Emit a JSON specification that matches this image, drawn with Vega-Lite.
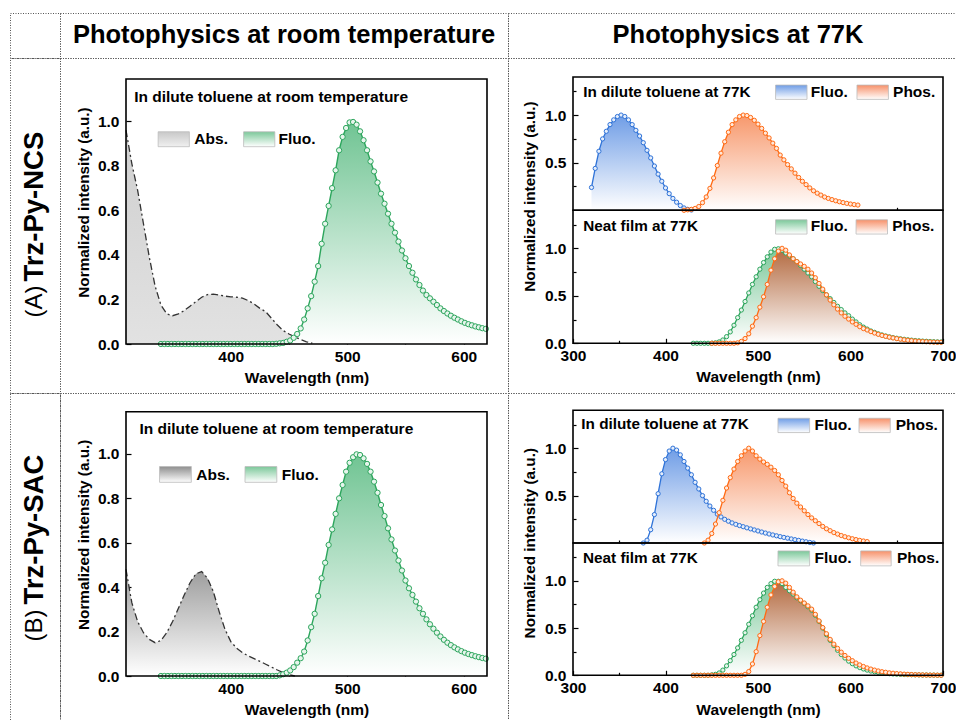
{
"$schema":"https://vega.github.io/schema/vega-lite/v6.json",
"usermeta":{"embedOptions":{"actions":false}},
"padding":{"left":9,"top":12,"right":0,"bottom":0},
"spacing":0,
"bounds":"flush",
"columns":3,
"config":{"font":"Liberation Sans","view":{"stroke":"#555555","strokeDash":[1,1.5],"strokeWidth":1},"axis":{"labelFont":"Liberation Sans","titleFont":"Liberation Sans"},"text":{"font":"Liberation Sans"}},
"datasets":{
"A_abs":[{"x":310,"y":0.96},{"x":315,"y":0.81},{"x":320,"y":0.69},{"x":325,"y":0.54},{"x":330,"y":0.39},{"x":335,"y":0.26},{"x":340,"y":0.175},{"x":345,"y":0.135},{"x":350,"y":0.127},{"x":355,"y":0.135},{"x":360,"y":0.15},{"x":365,"y":0.17},{"x":370,"y":0.19},{"x":375,"y":0.21},{"x":380,"y":0.222},{"x":385,"y":0.224},{"x":390,"y":0.22},{"x":395,"y":0.215},{"x":400,"y":0.212},{"x":405,"y":0.21},{"x":410,"y":0.206},{"x":415,"y":0.195},{"x":420,"y":0.18},{"x":425,"y":0.16},{"x":430,"y":0.145},{"x":435,"y":0.115},{"x":440,"y":0.085},{"x":445,"y":0.06},{"x":450,"y":0.045},{"x":455,"y":0.032},{"x":460,"y":0.02},{"x":465,"y":0.01},{"x":470,"y":0.004}],
"A_fl":[{"x":340,"y":0},{"x":343,"y":0},{"x":346,"y":0},{"x":349,"y":0},{"x":352,"y":0},{"x":355,"y":0},{"x":358,"y":0},{"x":361,"y":0},{"x":364,"y":0},{"x":367,"y":0},{"x":370,"y":0},{"x":373,"y":0},{"x":376,"y":0},{"x":379,"y":0},{"x":382,"y":0},{"x":385,"y":0},{"x":388,"y":0},{"x":391,"y":0},{"x":394,"y":0},{"x":397,"y":0},{"x":400,"y":0},{"x":403,"y":0},{"x":406,"y":0},{"x":409,"y":0},{"x":412,"y":0},{"x":415,"y":0},{"x":418,"y":0},{"x":421,"y":0},{"x":424,"y":0},{"x":427,"y":0},{"x":430,"y":0},{"x":433,"y":0},{"x":436,"y":0},{"x":439,"y":0.001},{"x":442,"y":0.003},{"x":445,"y":0.005},{"x":448,"y":0.01},{"x":451,"y":0.016},{"x":454,"y":0.028},{"x":457,"y":0.045},{"x":460,"y":0.07},{"x":463,"y":0.11},{"x":466,"y":0.16},{"x":469,"y":0.215},{"x":472,"y":0.28},{"x":475,"y":0.35},{"x":478,"y":0.45},{"x":481,"y":0.54},{"x":484,"y":0.62},{"x":487,"y":0.7},{"x":490,"y":0.78},{"x":493,"y":0.87},{"x":496,"y":0.93},{"x":499,"y":0.97},{"x":502,"y":0.995},{"x":505,"y":0.997},{"x":508,"y":0.985},{"x":511,"y":0.955},{"x":514,"y":0.915},{"x":517,"y":0.87},{"x":520,"y":0.82},{"x":523,"y":0.775},{"x":526,"y":0.725},{"x":529,"y":0.675},{"x":532,"y":0.63},{"x":535,"y":0.585},{"x":538,"y":0.54},{"x":541,"y":0.5},{"x":544,"y":0.46},{"x":547,"y":0.42},{"x":550,"y":0.385},{"x":553,"y":0.35},{"x":556,"y":0.32},{"x":559,"y":0.29},{"x":562,"y":0.265},{"x":565,"y":0.24},{"x":568,"y":0.22},{"x":571,"y":0.205},{"x":574,"y":0.19},{"x":577,"y":0.175},{"x":580,"y":0.16},{"x":583,"y":0.148},{"x":586,"y":0.137},{"x":589,"y":0.127},{"x":592,"y":0.118},{"x":595,"y":0.11},{"x":598,"y":0.102},{"x":601,"y":0.095},{"x":604,"y":0.089},{"x":607,"y":0.084},{"x":610,"y":0.079},{"x":613,"y":0.075},{"x":616,"y":0.071},{"x":619,"y":0.068}],
"B_abs":[{"x":310,"y":0.48},{"x":315,"y":0.33},{"x":320,"y":0.245},{"x":325,"y":0.195},{"x":330,"y":0.165},{"x":335,"y":0.15},{"x":340,"y":0.16},{"x":345,"y":0.195},{"x":350,"y":0.245},{"x":355,"y":0.305},{"x":360,"y":0.365},{"x":365,"y":0.42},{"x":370,"y":0.46},{"x":375,"y":0.47},{"x":380,"y":0.44},{"x":385,"y":0.38},{"x":390,"y":0.29},{"x":395,"y":0.21},{"x":400,"y":0.155},{"x":405,"y":0.125},{"x":410,"y":0.105},{"x":415,"y":0.09},{"x":420,"y":0.078},{"x":425,"y":0.066},{"x":430,"y":0.053},{"x":435,"y":0.04},{"x":440,"y":0.027},{"x":445,"y":0.015},{"x":450,"y":0.006},{"x":455,"y":0}],
"B_fl":[{"x":340,"y":0},{"x":343,"y":0},{"x":346,"y":0},{"x":349,"y":0},{"x":352,"y":0},{"x":355,"y":0},{"x":358,"y":0},{"x":361,"y":0},{"x":364,"y":0},{"x":367,"y":0},{"x":370,"y":0},{"x":373,"y":0},{"x":376,"y":0},{"x":379,"y":0},{"x":382,"y":0},{"x":385,"y":0},{"x":388,"y":0},{"x":391,"y":0},{"x":394,"y":0},{"x":397,"y":0},{"x":400,"y":0},{"x":403,"y":0},{"x":406,"y":0},{"x":409,"y":0},{"x":412,"y":0},{"x":415,"y":0},{"x":418,"y":0},{"x":421,"y":0},{"x":424,"y":0},{"x":427,"y":0},{"x":430,"y":0},{"x":433,"y":0},{"x":436,"y":0},{"x":439,"y":0},{"x":442,"y":0.003},{"x":445,"y":0.008},{"x":448,"y":0.015},{"x":451,"y":0.025},{"x":454,"y":0.04},{"x":457,"y":0.06},{"x":460,"y":0.08},{"x":463,"y":0.11},{"x":466,"y":0.16},{"x":469,"y":0.22},{"x":472,"y":0.28},{"x":475,"y":0.36},{"x":478,"y":0.44},{"x":481,"y":0.51},{"x":484,"y":0.59},{"x":487,"y":0.66},{"x":490,"y":0.73},{"x":493,"y":0.8},{"x":496,"y":0.86},{"x":499,"y":0.92},{"x":502,"y":0.96},{"x":505,"y":0.985},{"x":508,"y":0.998},{"x":511,"y":0.995},{"x":514,"y":0.98},{"x":517,"y":0.955},{"x":520,"y":0.92},{"x":523,"y":0.875},{"x":526,"y":0.825},{"x":529,"y":0.77},{"x":532,"y":0.72},{"x":535,"y":0.665},{"x":538,"y":0.615},{"x":541,"y":0.565},{"x":544,"y":0.52},{"x":547,"y":0.475},{"x":550,"y":0.43},{"x":553,"y":0.395},{"x":556,"y":0.365},{"x":559,"y":0.335},{"x":562,"y":0.305},{"x":565,"y":0.28},{"x":568,"y":0.255},{"x":571,"y":0.233},{"x":574,"y":0.213},{"x":577,"y":0.195},{"x":580,"y":0.178},{"x":583,"y":0.163},{"x":586,"y":0.15},{"x":589,"y":0.139},{"x":592,"y":0.129},{"x":595,"y":0.12},{"x":598,"y":0.112},{"x":601,"y":0.105},{"x":604,"y":0.099},{"x":607,"y":0.094},{"x":610,"y":0.089},{"x":613,"y":0.085},{"x":616,"y":0.081},{"x":619,"y":0.078}],
"A_tf":[{"x":320,"y":0.24},{"x":324,"y":0.44},{"x":328,"y":0.62},{"x":332,"y":0.75},{"x":336,"y":0.83},{"x":340,"y":0.9},{"x":344,"y":0.95},{"x":348,"y":0.985},{"x":352,"y":1},{"x":356,"y":0.985},{"x":360,"y":0.95},{"x":364,"y":0.9},{"x":368,"y":0.84},{"x":372,"y":0.78},{"x":376,"y":0.71},{"x":380,"y":0.63},{"x":384,"y":0.55},{"x":388,"y":0.465},{"x":392,"y":0.38},{"x":396,"y":0.305},{"x":400,"y":0.235},{"x":404,"y":0.175},{"x":408,"y":0.125},{"x":412,"y":0.085},{"x":416,"y":0.05},{"x":420,"y":0.025},{"x":424,"y":0.01},{"x":428,"y":0.003}],
"A_tp":[{"x":420,"y":0},{"x":424,"y":0.005},{"x":428,"y":0.01},{"x":432,"y":0.02},{"x":436,"y":0.04},{"x":440,"y":0.08},{"x":444,"y":0.14},{"x":448,"y":0.23},{"x":452,"y":0.34},{"x":456,"y":0.47},{"x":460,"y":0.6},{"x":464,"y":0.72},{"x":468,"y":0.82},{"x":472,"y":0.9},{"x":476,"y":0.95},{"x":480,"y":0.985},{"x":484,"y":1},{"x":488,"y":0.995},{"x":492,"y":0.975},{"x":496,"y":0.945},{"x":500,"y":0.905},{"x":504,"y":0.86},{"x":508,"y":0.81},{"x":512,"y":0.76},{"x":516,"y":0.705},{"x":520,"y":0.65},{"x":524,"y":0.58},{"x":528,"y":0.53},{"x":532,"y":0.48},{"x":536,"y":0.435},{"x":540,"y":0.39},{"x":544,"y":0.345},{"x":548,"y":0.305},{"x":552,"y":0.27},{"x":556,"y":0.235},{"x":560,"y":0.205},{"x":564,"y":0.18},{"x":568,"y":0.16},{"x":572,"y":0.14},{"x":576,"y":0.125},{"x":580,"y":0.112},{"x":584,"y":0.1},{"x":588,"y":0.09},{"x":592,"y":0.081},{"x":596,"y":0.073},{"x":600,"y":0.066},{"x":604,"y":0.06},{"x":608,"y":0.055}],
"A_bf":[{"x":430,"y":0},{"x":434,"y":0},{"x":438,"y":0},{"x":442,"y":0},{"x":446,"y":0},{"x":450,"y":0},{"x":454,"y":0.005},{"x":458,"y":0.015},{"x":462,"y":0.035},{"x":466,"y":0.07},{"x":470,"y":0.12},{"x":474,"y":0.19},{"x":478,"y":0.27},{"x":482,"y":0.35},{"x":486,"y":0.44},{"x":490,"y":0.53},{"x":494,"y":0.62},{"x":498,"y":0.7},{"x":502,"y":0.78},{"x":506,"y":0.85},{"x":510,"y":0.91},{"x":514,"y":0.96},{"x":518,"y":0.99},{"x":522,"y":0.995},{"x":526,"y":0.98},{"x":530,"y":0.95},{"x":534,"y":0.92},{"x":538,"y":0.89},{"x":542,"y":0.86},{"x":546,"y":0.82},{"x":550,"y":0.78},{"x":554,"y":0.74},{"x":558,"y":0.7},{"x":562,"y":0.65},{"x":566,"y":0.6},{"x":570,"y":0.555},{"x":574,"y":0.51},{"x":578,"y":0.47},{"x":582,"y":0.43},{"x":586,"y":0.39},{"x":590,"y":0.355},{"x":594,"y":0.32},{"x":598,"y":0.29},{"x":602,"y":0.255},{"x":606,"y":0.225},{"x":610,"y":0.195},{"x":614,"y":0.17},{"x":618,"y":0.15},{"x":622,"y":0.13},{"x":626,"y":0.115},{"x":630,"y":0.1},{"x":634,"y":0.088},{"x":638,"y":0.077},{"x":642,"y":0.068},{"x":646,"y":0.06},{"x":650,"y":0.053},{"x":654,"y":0.047},{"x":658,"y":0.042},{"x":662,"y":0.037},{"x":666,"y":0.033},{"x":670,"y":0.029},{"x":674,"y":0.026},{"x":678,"y":0.023},{"x":682,"y":0.021},{"x":686,"y":0.019},{"x":690,"y":0.017},{"x":694,"y":0.015},{"x":698,"y":0.014}],
"A_bp":[{"x":450,"y":0},{"x":454,"y":0},{"x":458,"y":0},{"x":462,"y":0},{"x":466,"y":0},{"x":470,"y":0},{"x":474,"y":0},{"x":478,"y":0.005},{"x":482,"y":0.02},{"x":486,"y":0.05},{"x":490,"y":0.1},{"x":494,"y":0.18},{"x":498,"y":0.27},{"x":502,"y":0.38},{"x":506,"y":0.49},{"x":510,"y":0.62},{"x":514,"y":0.77},{"x":518,"y":0.89},{"x":522,"y":0.97},{"x":526,"y":1},{"x":530,"y":0.98},{"x":534,"y":0.93},{"x":538,"y":0.89},{"x":542,"y":0.86},{"x":546,"y":0.835},{"x":550,"y":0.81},{"x":554,"y":0.78},{"x":558,"y":0.74},{"x":562,"y":0.69},{"x":566,"y":0.63},{"x":570,"y":0.57},{"x":574,"y":0.51},{"x":578,"y":0.455},{"x":582,"y":0.405},{"x":586,"y":0.36},{"x":590,"y":0.32},{"x":594,"y":0.285},{"x":598,"y":0.255},{"x":602,"y":0.225},{"x":606,"y":0.2},{"x":610,"y":0.175},{"x":614,"y":0.155},{"x":618,"y":0.14},{"x":622,"y":0.123},{"x":626,"y":0.108},{"x":630,"y":0.095},{"x":634,"y":0.083},{"x":638,"y":0.073},{"x":642,"y":0.064},{"x":646,"y":0.056},{"x":650,"y":0.049},{"x":654,"y":0.043},{"x":658,"y":0.037},{"x":662,"y":0.032},{"x":666,"y":0.028},{"x":670,"y":0.024},{"x":674,"y":0.021},{"x":678,"y":0.018},{"x":682,"y":0.016},{"x":686,"y":0.014},{"x":690,"y":0.012},{"x":694,"y":0.011},{"x":698,"y":0.01}],
"B_tf":[{"x":376,"y":0},{"x":380,"y":0.03},{"x":384,"y":0.14},{"x":388,"y":0.3},{"x":392,"y":0.52},{"x":396,"y":0.73},{"x":400,"y":0.88},{"x":404,"y":0.97},{"x":408,"y":1},{"x":412,"y":0.98},{"x":416,"y":0.93},{"x":420,"y":0.86},{"x":424,"y":0.79},{"x":428,"y":0.72},{"x":432,"y":0.64},{"x":436,"y":0.57},{"x":440,"y":0.5},{"x":444,"y":0.44},{"x":448,"y":0.39},{"x":452,"y":0.345},{"x":456,"y":0.305},{"x":460,"y":0.275},{"x":464,"y":0.25},{"x":468,"y":0.23},{"x":472,"y":0.212},{"x":476,"y":0.197},{"x":480,"y":0.184},{"x":484,"y":0.172},{"x":488,"y":0.16},{"x":492,"y":0.149},{"x":496,"y":0.138},{"x":500,"y":0.127},{"x":504,"y":0.116},{"x":508,"y":0.105},{"x":512,"y":0.095},{"x":516,"y":0.085},{"x":520,"y":0.076},{"x":524,"y":0.067},{"x":528,"y":0.059},{"x":532,"y":0.051},{"x":536,"y":0.043},{"x":540,"y":0.035},{"x":544,"y":0.028},{"x":548,"y":0.02},{"x":552,"y":0.013},{"x":556,"y":0.006},{"x":560,"y":0}],
"B_tp":[{"x":442,"y":0},{"x":446,"y":0.03},{"x":450,"y":0.1},{"x":454,"y":0.2},{"x":458,"y":0.32},{"x":462,"y":0.45},{"x":466,"y":0.58},{"x":470,"y":0.69},{"x":474,"y":0.78},{"x":478,"y":0.86},{"x":482,"y":0.92},{"x":486,"y":0.97},{"x":490,"y":1},{"x":494,"y":0.97},{"x":498,"y":0.92},{"x":502,"y":0.885},{"x":506,"y":0.855},{"x":510,"y":0.83},{"x":514,"y":0.8},{"x":518,"y":0.765},{"x":522,"y":0.72},{"x":526,"y":0.66},{"x":530,"y":0.6},{"x":534,"y":0.53},{"x":538,"y":0.47},{"x":542,"y":0.42},{"x":546,"y":0.38},{"x":550,"y":0.34},{"x":554,"y":0.3},{"x":558,"y":0.265},{"x":562,"y":0.235},{"x":566,"y":0.205},{"x":570,"y":0.175},{"x":574,"y":0.15},{"x":578,"y":0.13},{"x":582,"y":0.11},{"x":586,"y":0.094},{"x":590,"y":0.079},{"x":594,"y":0.066},{"x":598,"y":0.055},{"x":602,"y":0.045},{"x":606,"y":0.036},{"x":610,"y":0.028},{"x":614,"y":0.021},{"x":618,"y":0.015}],
"B_bf":[{"x":430,"y":0},{"x":434,"y":0},{"x":438,"y":0},{"x":442,"y":0},{"x":446,"y":0},{"x":450,"y":0.004},{"x":454,"y":0.01},{"x":458,"y":0.025},{"x":462,"y":0.055},{"x":466,"y":0.1},{"x":470,"y":0.155},{"x":474,"y":0.22},{"x":478,"y":0.29},{"x":482,"y":0.37},{"x":486,"y":0.45},{"x":490,"y":0.54},{"x":494,"y":0.63},{"x":498,"y":0.72},{"x":502,"y":0.8},{"x":506,"y":0.87},{"x":510,"y":0.93},{"x":514,"y":0.97},{"x":518,"y":0.995},{"x":522,"y":0.995},{"x":526,"y":0.97},{"x":530,"y":0.93},{"x":534,"y":0.895},{"x":538,"y":0.86},{"x":542,"y":0.82},{"x":546,"y":0.79},{"x":550,"y":0.76},{"x":554,"y":0.725},{"x":558,"y":0.69},{"x":562,"y":0.635},{"x":566,"y":0.57},{"x":570,"y":0.5},{"x":574,"y":0.43},{"x":578,"y":0.37},{"x":582,"y":0.315},{"x":586,"y":0.265},{"x":590,"y":0.22},{"x":594,"y":0.183},{"x":598,"y":0.15},{"x":602,"y":0.123},{"x":606,"y":0.1},{"x":610,"y":0.082},{"x":614,"y":0.067},{"x":618,"y":0.055},{"x":622,"y":0.045},{"x":626,"y":0.037},{"x":630,"y":0.03},{"x":634,"y":0.025},{"x":638,"y":0.02},{"x":642,"y":0.017},{"x":646,"y":0.014},{"x":650,"y":0.012},{"x":654,"y":0.01},{"x":658,"y":0.008},{"x":662,"y":0.007},{"x":666,"y":0.006},{"x":670,"y":0.005},{"x":674,"y":0.004},{"x":678,"y":0.003},{"x":682,"y":0.003},{"x":686,"y":0.002},{"x":690,"y":0.002},{"x":694,"y":0.001},{"x":698,"y":0.001}],
"B_bp":[{"x":430,"y":0},{"x":434,"y":0},{"x":438,"y":0},{"x":442,"y":0},{"x":446,"y":0},{"x":450,"y":0},{"x":454,"y":0},{"x":458,"y":0},{"x":462,"y":0},{"x":466,"y":0},{"x":470,"y":0},{"x":474,"y":0},{"x":478,"y":0},{"x":482,"y":0},{"x":486,"y":0.01},{"x":490,"y":0.04},{"x":494,"y":0.12},{"x":498,"y":0.25},{"x":502,"y":0.42},{"x":506,"y":0.57},{"x":510,"y":0.72},{"x":514,"y":0.85},{"x":518,"y":0.94},{"x":522,"y":0.99},{"x":526,"y":1},{"x":530,"y":0.975},{"x":534,"y":0.93},{"x":538,"y":0.88},{"x":542,"y":0.83},{"x":546,"y":0.795},{"x":550,"y":0.765},{"x":554,"y":0.735},{"x":558,"y":0.7},{"x":562,"y":0.645},{"x":566,"y":0.575},{"x":570,"y":0.505},{"x":574,"y":0.44},{"x":578,"y":0.38},{"x":582,"y":0.33},{"x":586,"y":0.285},{"x":590,"y":0.245},{"x":594,"y":0.21},{"x":598,"y":0.18},{"x":602,"y":0.155},{"x":606,"y":0.13},{"x":610,"y":0.11},{"x":614,"y":0.093},{"x":618,"y":0.078},{"x":622,"y":0.066},{"x":626,"y":0.055},{"x":630,"y":0.046},{"x":634,"y":0.038},{"x":638,"y":0.032},{"x":642,"y":0.026},{"x":646,"y":0.022},{"x":650,"y":0.018},{"x":654,"y":0.015},{"x":658,"y":0.012},{"x":662,"y":0.01},{"x":666,"y":0.008},{"x":670,"y":0.006},{"x":674,"y":0.005},{"x":678,"y":0.004},{"x":682,"y":0.003},{"x":686,"y":0.002},{"x":690,"y":0.002},{"x":694,"y":0.001},{"x":698,"y":0}]
},
"concat":[
 {"width":50,"height":45,"data":{"values":[{}]},"mark":{"type":"text","text":" "},"encoding":{"x":{"datum":0.5,"scale":{"domain":[0,1]},"axis":null},"y":{"datum":0.5,"scale":{"domain":[0,1]},"axis":null}}},
 {"width":448,"height":45,"data":{"values":[{}]},"mark":{"type":"text","text":"Photophysics at room temperature","fontSize":25.5,"fontWeight":"bold","color":"black","baseline":"middle","dy":-1},"encoding":{"x":{"datum":0.5,"scale":{"domain":[0,1]},"axis":null},"y":{"datum":0.5,"scale":{"domain":[0,1]},"axis":null}}},
 {"width":448,"height":45,"data":{"values":[{}]},"mark":{"type":"text","text":"Photophysics at 77K","fontSize":25.5,"fontWeight":"bold","color":"black","baseline":"middle","dx":6,"dy":-1},"encoding":{"x":{"datum":0.5,"scale":{"domain":[0,1]},"axis":null},"y":{"datum":0.5,"scale":{"domain":[0,1]},"axis":null}}},
 {"width":50,"height":335,"data":{"values":[{}]},"encoding":{"x":{"datum":0.5,"scale":{"domain":[0,1]},"axis":null},"y":{"datum":0.5,"scale":{"domain":[0,1]},"axis":null}},"layer":[
  {"mark":{"type":"text","text":"(A)","angle":270,"align":"right","baseline":"middle","dx":-60,"fontSize":24,"color":"black"}},
  {"mark":{"type":"text","text":"Trz-Py-NCS","angle":270,"align":"left","baseline":"middle","dx":-56,"fontSize":27.5,"fontWeight":"bold","color":"black"}}
 ]},
 {"width":448,"height":335,
  "layer":[
   {"encoding":{
     "x":{"field":"x","type":"quantitative","scale":{"domain":[310,620],"range":[66,427],"nice":false,"zero":false},
      "axis":{"orient":"bottom","offset":-49,"values":[350,400,450,500,550,600],"domain":false,"grid":false,"tickColor":"black","tickWidth":1.2,"tickSize":{"condition":{"test":"datum.value % 100 === 0","value":-5},"value":-3},"labelExpr":"datum.value % 100 === 0 ? datum.label : ''","labelPadding":10,"labelFlush":false,"labelOverlap":false,"labelFontSize":15.5,"labelFontWeight":"bold","labelColor":"black","title":"Wavelength (nm)","titleFontSize":15.5,"titleFontWeight":"bold","titleColor":"black","titleY":33,"titleBaseline":"middle"}},
     "y":{"field":"y","type":"quantitative","scale":{"domain":[0,1.19],"range":[286,21],"nice":false,"zero":false},
      "axis":{"orient":"left","offset":-66,"values":[0,0.1,0.2,0.3,0.4,0.5,0.6,0.7,0.8,0.9,1,1.1],"domain":false,"grid":false,"tickColor":"black","tickWidth":1.2,"tickSize":{"condition":{"test":"round(datum.value*10) % 2 === 0","value":-5},"value":-3},"labelExpr":"round(datum.value*10) % 2 === 0 ? format(datum.value, '.1f') : ''","labelPadding":12,"labelFontSize":15.5,"labelFontWeight":"bold","labelColor":"black","title":"Normalized intensity (a.u.)","titleFontSize":15.3,"titleFontWeight":"bold","titleColor":"black","titleX":-42.5,"titleY":144,"titleBaseline":"middle"}}},
    "layer":[
     {"data":{"name":"A_abs"},"mark":{"type":"area","color":{"gradient":"linear","x1":0,"y1":0,"x2":0,"y2":1,"stops":[{"offset":0,"color":"#cfcfcf"},{"offset":1,"color":"#e2e2e2"}]}}},
     {"data":{"name":"A_fl"},"mark":{"type":"area","color":{"gradient":"linear","x1":0,"y1":0,"x2":0,"y2":1,"stops":[{"offset":0,"color":"#70c493"},{"offset":1,"color":"#ffffff"}]}}},
     {"data":{"name":"A_abs"},"mark":{"type":"line","color":"#333333","strokeWidth":1.3,"strokeDash":[7,3,2,3]}},
     {"data":{"name":"A_fl"},"mark":{"type":"line","color":"#2ca55c","strokeWidth":1.4}},
     {"data":{"name":"A_fl"},"mark":{"type":"point","filled":true,"fill":"#e6f5ec","stroke":"#2ca55c","strokeWidth":1,"size":28,"opacity":1}}
    ]},
   {"data":{"values":[{}]},"mark":{"type":"rect","color":{"gradient":"linear","x1":0,"y1":0,"x2":0,"y2":1,"stops":[{"offset":0,"color":"#c8c8c8"},{"offset":1,"color":"#f0f0f0"}]},"stroke":"#bbbbbb","strokeWidth":0.8},"encoding":{"x":{"datum":337.6},"x2":{"datum":364.4},"y":{"datum":0.953},"y2":{"datum":0.886}}},
   {"data":{"values":[{}]},"mark":{"type":"rect","color":{"gradient":"linear","x1":0,"y1":0,"x2":0,"y2":1,"stops":[{"offset":0,"color":"#7cc89a"},{"offset":1,"color":"#ffffff"}]},"stroke":"#bbbbbb","strokeWidth":0.8},"encoding":{"x":{"datum":411},"x2":{"datum":437.8},"y":{"datum":0.953},"y2":{"datum":0.886}}},
   {"data":{"values":[{}]},"mark":{"type":"text","text":"Abs.","align":"left","baseline":"middle","fontSize":15.5,"fontWeight":"bold","color":"black"},"encoding":{"x":{"datum":368.7},"y":{"datum":0.92}}},
   {"data":{"values":[{}]},"mark":{"type":"text","text":"Fluo.","align":"left","baseline":"middle","fontSize":15.5,"fontWeight":"bold","color":"black"},"encoding":{"x":{"datum":441},"y":{"datum":0.92}}},
   {"data":{"values":[{}]},"mark":{"type":"text","text":"In dilute toluene at room temperature","align":"left","baseline":"middle","fontSize":15.5,"fontWeight":"bold","color":"black"},"encoding":{"x":{"datum":317},"y":{"datum":1.11}}},
   {"data":{"values":[{}]},"mark":{"type":"rect","filled":false,"color":"black","strokeWidth":1.6},"encoding":{"x":{"datum":310},"x2":{"datum":620},"y":{"datum":0},"y2":{"datum":1.19}}}
  ]},
 {"width":448,"height":335,
  "resolve":{"scale":{"x":"independent","y":"independent"}},
  "layer":[
   {"layer":[
    {"encoding":{
      "x":{"field":"x","type":"quantitative","scale":{"domain":[300,700],"range":[65,435],"nice":false,"zero":false},
       "axis":{"orient":"bottom","offset":-182.7,"values":[350,400,450,500,550,600,650],"domain":false,"grid":false,"tickColor":"black","tickWidth":1.2,"tickSize":-3,"labels":false,"title":null}},
      "y":{"field":"y","type":"quantitative","scale":{"domain":[0,1.4],"range":[152.3,19],"nice":false,"zero":false},
       "axis":{"orient":"left","offset":-65,"values":[0.25,0.5,0.75,1,1.25],"domain":false,"grid":false,"tickColor":"black","tickWidth":1.2,"tickSize":{"condition":{"test":"round(datum.value*4) % 2 === 0","value":-5},"value":-3},"labelExpr":"round(datum.value*4) % 2 === 0 ? format(datum.value, '.1f') : ''","labelPadding":12,"labelFontSize":15.5,"labelFontWeight":"bold","labelColor":"black","title":null}}},
     "layer":[
      {"data":{"name":"A_tf"},"mark":{"type":"area","color":{"gradient":"linear","x1":0,"y1":0,"x2":0,"y2":1,"stops":[{"offset":0,"color":"#6f9de6"},{"offset":1,"color":"#ffffff"}]}}},
      {"data":{"name":"A_tp"},"mark":{"type":"area","color":{"gradient":"linear","x1":0,"y1":0,"x2":0,"y2":1,"stops":[{"offset":0,"color":"#f7986c"},{"offset":1,"color":"#ffffff"}]}}},
      {"data":{"name":"A_tf"},"mark":{"type":"line","color":"#2f73d8","strokeWidth":1.3}},
      {"data":{"name":"A_tf"},"mark":{"type":"point","filled":true,"fill":"#e4edfb","stroke":"#2f73d8","strokeWidth":1,"size":18,"opacity":1}},
      {"data":{"name":"A_tp"},"mark":{"type":"line","color":"#ff6a13","strokeWidth":1.3}},
      {"data":{"name":"A_tp"},"mark":{"type":"point","filled":true,"fill":"#ffe8da","stroke":"#ff6a13","strokeWidth":1,"size":18,"opacity":1}}
     ]},
    {"data":{"values":[{}]},"mark":{"type":"rect","color":{"gradient":"linear","x1":0,"y1":0,"x2":0,"y2":1,"stops":[{"offset":0,"color":"#6f9de6"},{"offset":1,"color":"#ffffff"}]},"stroke":"#bbbbbb","strokeWidth":0.8},"encoding":{"x":{"datum":519},"x2":{"datum":553},"y":{"datum":1.315},"y2":{"datum":1.165}}},
    {"data":{"values":[{}]},"mark":{"type":"rect","color":{"gradient":"linear","x1":0,"y1":0,"x2":0,"y2":1,"stops":[{"offset":0,"color":"#f7916a"},{"offset":1,"color":"#ffffff"}]},"stroke":"#bbbbbb","strokeWidth":0.8},"encoding":{"x":{"datum":607},"x2":{"datum":641},"y":{"datum":1.315},"y2":{"datum":1.165}}},
    {"data":{"values":[{}]},"mark":{"type":"text","text":"Fluo.","align":"left","baseline":"middle","fontSize":15.5,"fontWeight":"bold","color":"black"},"encoding":{"x":{"datum":557},"y":{"datum":1.245}}},
    {"data":{"values":[{}]},"mark":{"type":"text","text":"Phos.","align":"left","baseline":"middle","fontSize":15.5,"fontWeight":"bold","color":"black"},"encoding":{"x":{"datum":646},"y":{"datum":1.245}}},
    {"data":{"values":[{}]},"mark":{"type":"text","text":"In dilute toluene at 77K","align":"left","baseline":"middle","fontSize":15.3,"fontWeight":"bold","color":"black"},"encoding":{"x":{"datum":311},"y":{"datum":1.245}}},
    {"data":{"values":[{}]},"mark":{"type":"rect","filled":false,"color":"black","strokeWidth":1.6},"encoding":{"x":{"datum":300},"x2":{"datum":700},"y":{"datum":0},"y2":{"datum":1.4}}}
   ]},
   {"layer":[
    {"encoding":{
      "x":{"field":"x","type":"quantitative","scale":{"domain":[300,700],"range":[65,435],"nice":false,"zero":false},
       "axis":{"orient":"bottom","offset":-49.7,"values":[300,350,400,450,500,550,600,650,700],"domain":false,"grid":false,"tickColor":"black","tickWidth":1.2,"tickSize":{"condition":{"test":"datum.value % 100 === 0","value":-5},"value":-3},"labelExpr":"datum.value % 100 === 0 ? datum.label : ''","labelPadding":10,"labelFlush":false,"labelOverlap":false,"labelFontSize":15.5,"labelFontWeight":"bold","labelColor":"black","title":"Wavelength (nm)","titleFontSize":15.5,"titleFontWeight":"bold","titleColor":"black","titleY":33.5,"titleBaseline":"middle"}},
      "y":{"field":"y","type":"quantitative","scale":{"domain":[0,1.4],"range":[285.3,152.3],"nice":false,"zero":false},
       "axis":{"orient":"left","offset":-65,"values":[0,0.25,0.5,0.75,1,1.25],"domain":false,"grid":false,"tickColor":"black","tickWidth":1.2,"tickSize":{"condition":{"test":"round(datum.value*4) % 2 === 0","value":-5},"value":-3},"labelExpr":"round(datum.value*4) % 2 === 0 ? format(datum.value, '.1f') : ''","labelPadding":12,"labelFontSize":15.5,"labelFontWeight":"bold","labelColor":"black","title":"Normalized intensity (a.u.)","titleFontSize":15.3,"titleFontWeight":"bold","titleColor":"black","titleX":-43.5,"titleY":138,"titleBaseline":"middle"}}},
     "layer":[
      {"data":{"name":"A_bf"},"mark":{"type":"area","color":{"gradient":"linear","x1":0,"y1":0,"x2":0,"y2":1,"stops":[{"offset":0,"color":"#7cc89a"},{"offset":1,"color":"#ffffff"}]}}},
      {"data":{"name":"A_bp"},"mark":{"type":"area","color":{"gradient":"linear","x1":0,"y1":0,"x2":0,"y2":1,"stops":[{"offset":0,"color":"#b3693f"},{"offset":1,"color":"#ffffff"}]}}},
      {"data":{"name":"A_bf"},"mark":{"type":"line","color":"#2ca55c","strokeWidth":1.3}},
      {"data":{"name":"A_bf"},"mark":{"type":"point","filled":true,"fill":"#e6f5ec","stroke":"#2ca55c","strokeWidth":1,"size":18,"opacity":1}},
      {"data":{"name":"A_bp"},"mark":{"type":"line","color":"#ff6a13","strokeWidth":1.3}},
      {"data":{"name":"A_bp"},"mark":{"type":"point","filled":true,"fill":"#ffe8da","stroke":"#ff6a13","strokeWidth":1,"size":18,"opacity":1}}
     ]},
    {"data":{"values":[{}]},"mark":{"type":"rect","color":{"gradient":"linear","x1":0,"y1":0,"x2":0,"y2":1,"stops":[{"offset":0,"color":"#7cc89a"},{"offset":1,"color":"#ffffff"}]},"stroke":"#bbbbbb","strokeWidth":0.8},"encoding":{"x":{"datum":519},"x2":{"datum":553},"y":{"datum":1.3},"y2":{"datum":1.15}}},
    {"data":{"values":[{}]},"mark":{"type":"rect","color":{"gradient":"linear","x1":0,"y1":0,"x2":0,"y2":1,"stops":[{"offset":0,"color":"#f7916a"},{"offset":1,"color":"#ffffff"}]},"stroke":"#bbbbbb","strokeWidth":0.8},"encoding":{"x":{"datum":606},"x2":{"datum":640},"y":{"datum":1.3},"y2":{"datum":1.15}}},
    {"data":{"values":[{}]},"mark":{"type":"text","text":"Fluo.","align":"left","baseline":"middle","fontSize":15.5,"fontWeight":"bold","color":"black"},"encoding":{"x":{"datum":557},"y":{"datum":1.24}}},
    {"data":{"values":[{}]},"mark":{"type":"text","text":"Phos.","align":"left","baseline":"middle","fontSize":15.5,"fontWeight":"bold","color":"black"},"encoding":{"x":{"datum":645},"y":{"datum":1.24}}},
    {"data":{"values":[{}]},"mark":{"type":"text","text":"Neat film at 77K","align":"left","baseline":"middle","fontSize":15.3,"fontWeight":"bold","color":"black"},"encoding":{"x":{"datum":311},"y":{"datum":1.24}}},
    {"data":{"values":[{}]},"mark":{"type":"rect","filled":false,"color":"black","strokeWidth":1.6},"encoding":{"x":{"datum":300},"x2":{"datum":700},"y":{"datum":0},"y2":{"datum":1.4}}}
   ]}
  ]},
 {"width":50,"height":327,"data":{"values":[{}]},"encoding":{"x":{"datum":0.5,"scale":{"domain":[0,1]},"axis":null},"y":{"datum":0.5,"scale":{"domain":[0,1]},"axis":null}},"layer":[
  {"mark":{"type":"text","text":"(B)","angle":270,"align":"right","baseline":"middle","dx":-53,"fontSize":24,"color":"black"}},
  {"mark":{"type":"text","text":"Trz-Py-SAC","angle":270,"align":"left","baseline":"middle","dx":-48,"fontSize":27.5,"fontWeight":"bold","color":"black"}}
 ]},
 {"width":448,"height":327,
  "layer":[
   {"encoding":{
     "x":{"field":"x","type":"quantitative","scale":{"domain":[310,620],"range":[66,427],"nice":false,"zero":false},
      "axis":{"orient":"bottom","offset":-44,"values":[350,400,450,500,550,600],"domain":false,"grid":false,"tickColor":"black","tickWidth":1.2,"tickSize":{"condition":{"test":"datum.value % 100 === 0","value":-5},"value":-3},"labelExpr":"datum.value % 100 === 0 ? datum.label : ''","labelPadding":10,"labelFlush":false,"labelOverlap":false,"labelFontSize":15.5,"labelFontWeight":"bold","labelColor":"black","title":"Wavelength (nm)","titleFontSize":15.5,"titleFontWeight":"bold","titleColor":"black","titleY":33.3,"titleBaseline":"middle"}},
     "y":{"field":"y","type":"quantitative","scale":{"domain":[0,1.19],"range":[283,18.7],"nice":false,"zero":false},
      "axis":{"orient":"left","offset":-66,"values":[0,0.1,0.2,0.3,0.4,0.5,0.6,0.7,0.8,0.9,1,1.1],"domain":false,"grid":false,"tickColor":"black","tickWidth":1.2,"tickSize":{"condition":{"test":"round(datum.value*10) % 2 === 0","value":-5},"value":-3},"labelExpr":"round(datum.value*10) % 2 === 0 ? format(datum.value, '.1f') : ''","labelPadding":12,"labelFontSize":15.5,"labelFontWeight":"bold","labelColor":"black","title":"Normalized intensity (a.u.)","titleFontSize":15.3,"titleFontWeight":"bold","titleColor":"black","titleX":-43,"titleY":141.3,"titleBaseline":"middle"}}},
    "layer":[
     {"data":{"name":"B_abs"},"mark":{"type":"area","color":{"gradient":"linear","x1":0,"y1":0,"x2":0,"y2":1,"stops":[{"offset":0,"color":"#9c9c9c"},{"offset":1,"color":"#ffffff"}]}}},
     {"data":{"name":"B_fl"},"mark":{"type":"area","color":{"gradient":"linear","x1":0,"y1":0,"x2":0,"y2":1,"stops":[{"offset":0,"color":"#70c493"},{"offset":1,"color":"#ffffff"}]}}},
     {"data":{"name":"B_abs"},"mark":{"type":"line","color":"#333333","strokeWidth":1.3,"strokeDash":[7,3,2,3]}},
     {"data":{"name":"B_fl"},"mark":{"type":"line","color":"#2ca55c","strokeWidth":1.4}},
     {"data":{"name":"B_fl"},"mark":{"type":"point","filled":true,"fill":"#e6f5ec","stroke":"#2ca55c","strokeWidth":1,"size":28,"opacity":1}}
    ]},
   {"data":{"values":[{}]},"mark":{"type":"rect","color":{"gradient":"linear","x1":0,"y1":0,"x2":0,"y2":1,"stops":[{"offset":0,"color":"#8e8e8e"},{"offset":1,"color":"#ffffff"}]},"stroke":"#bbbbbb","strokeWidth":0.8},"encoding":{"x":{"datum":338.8},"x2":{"datum":366.1},"y":{"datum":0.943},"y2":{"datum":0.872}}},
   {"data":{"values":[{}]},"mark":{"type":"rect","color":{"gradient":"linear","x1":0,"y1":0,"x2":0,"y2":1,"stops":[{"offset":0,"color":"#7cc89a"},{"offset":1,"color":"#ffffff"}]},"stroke":"#bbbbbb","strokeWidth":0.8},"encoding":{"x":{"datum":412.2},"x2":{"datum":439.5},"y":{"datum":0.943},"y2":{"datum":0.872}}},
   {"data":{"values":[{}]},"mark":{"type":"text","text":"Abs.","align":"left","baseline":"middle","fontSize":15.5,"fontWeight":"bold","color":"black"},"encoding":{"x":{"datum":370.4},"y":{"datum":0.907}}},
   {"data":{"values":[{}]},"mark":{"type":"text","text":"Fluo.","align":"left","baseline":"middle","fontSize":15.5,"fontWeight":"bold","color":"black"},"encoding":{"x":{"datum":443.8},"y":{"datum":0.907}}},
   {"data":{"values":[{}]},"mark":{"type":"text","text":"In dilute toluene at room temperature","align":"left","baseline":"middle","fontSize":15.5,"fontWeight":"bold","color":"black"},"encoding":{"x":{"datum":321.5},"y":{"datum":1.113}}},
   {"data":{"values":[{}]},"mark":{"type":"rect","filled":false,"color":"black","strokeWidth":1.6},"encoding":{"x":{"datum":310},"x2":{"datum":620},"y":{"datum":0},"y2":{"datum":1.19}}}
  ]},
 {"width":448,"height":327,
  "resolve":{"scale":{"x":"independent","y":"independent"}},
  "layer":[
   {"layer":[
    {"encoding":{
      "x":{"field":"x","type":"quantitative","scale":{"domain":[300,700],"range":[65,435],"nice":false,"zero":false},
       "axis":{"orient":"bottom","offset":-177,"values":[350,400,450,500,550,600,650],"domain":false,"grid":false,"tickColor":"black","tickWidth":1.2,"tickSize":-3,"labels":false,"title":null}},
      "y":{"field":"y","type":"quantitative","scale":{"domain":[0,1.4],"range":[150,17.3],"nice":false,"zero":false},
       "axis":{"orient":"left","offset":-65,"values":[0.25,0.5,0.75,1,1.25],"domain":false,"grid":false,"tickColor":"black","tickWidth":1.2,"tickSize":{"condition":{"test":"round(datum.value*4) % 2 === 0","value":-5},"value":-3},"labelExpr":"round(datum.value*4) % 2 === 0 ? format(datum.value, '.1f') : ''","labelPadding":12,"labelFontSize":15.5,"labelFontWeight":"bold","labelColor":"black","title":null}}},
     "layer":[
      {"data":{"name":"B_tf"},"mark":{"type":"area","color":{"gradient":"linear","x1":0,"y1":0,"x2":0,"y2":1,"stops":[{"offset":0,"color":"#6f9de6"},{"offset":1,"color":"#ffffff"}]}}},
      {"data":{"name":"B_tp"},"mark":{"type":"area","color":{"gradient":"linear","x1":0,"y1":0,"x2":0,"y2":1,"stops":[{"offset":0,"color":"#f7986c"},{"offset":1,"color":"#ffffff"}]}}},
      {"data":{"name":"B_tf"},"mark":{"type":"line","color":"#2f73d8","strokeWidth":1.3}},
      {"data":{"name":"B_tf"},"mark":{"type":"point","filled":true,"fill":"#e4edfb","stroke":"#2f73d8","strokeWidth":1,"size":18,"opacity":1}},
      {"data":{"name":"B_tp"},"mark":{"type":"line","color":"#ff6a13","strokeWidth":1.3}},
      {"data":{"name":"B_tp"},"mark":{"type":"point","filled":true,"fill":"#ffe8da","stroke":"#ff6a13","strokeWidth":1,"size":18,"opacity":1}}
     ]},
    {"data":{"values":[{}]},"mark":{"type":"rect","color":{"gradient":"linear","x1":0,"y1":0,"x2":0,"y2":1,"stops":[{"offset":0,"color":"#6f9de6"},{"offset":1,"color":"#ffffff"}]},"stroke":"#bbbbbb","strokeWidth":0.8},"encoding":{"x":{"datum":521.6},"x2":{"datum":555.8},"y":{"datum":1.316},"y2":{"datum":1.165}}},
    {"data":{"values":[{}]},"mark":{"type":"rect","color":{"gradient":"linear","x1":0,"y1":0,"x2":0,"y2":1,"stops":[{"offset":0,"color":"#f7916a"},{"offset":1,"color":"#ffffff"}]},"stroke":"#bbbbbb","strokeWidth":0.8},"encoding":{"x":{"datum":609.2},"x2":{"datum":643},"y":{"datum":1.316},"y2":{"datum":1.165}}},
    {"data":{"values":[{}]},"mark":{"type":"text","text":"Fluo.","align":"left","baseline":"middle","fontSize":15.5,"fontWeight":"bold","color":"black"},"encoding":{"x":{"datum":561},"y":{"datum":1.245}}},
    {"data":{"values":[{}]},"mark":{"type":"text","text":"Phos.","align":"left","baseline":"middle","fontSize":15.5,"fontWeight":"bold","color":"black"},"encoding":{"x":{"datum":648.8},"y":{"datum":1.245}}},
    {"data":{"values":[{}]},"mark":{"type":"text","text":"In dilute toluene at 77K","align":"left","baseline":"middle","fontSize":15.3,"fontWeight":"bold","color":"black"},"encoding":{"x":{"datum":309},"y":{"datum":1.253}}},
    {"data":{"values":[{}]},"mark":{"type":"rect","filled":false,"color":"black","strokeWidth":1.6},"encoding":{"x":{"datum":300},"x2":{"datum":700},"y":{"datum":0},"y2":{"datum":1.4}}}
   ]},
   {"layer":[
    {"encoding":{
      "x":{"field":"x","type":"quantitative","scale":{"domain":[300,700],"range":[65,435],"nice":false,"zero":false},
       "axis":{"orient":"bottom","offset":-44.7,"values":[300,350,400,450,500,550,600,650,700],"domain":false,"grid":false,"tickColor":"black","tickWidth":1.2,"tickSize":{"condition":{"test":"datum.value % 100 === 0","value":-5},"value":-3},"labelExpr":"datum.value % 100 === 0 ? datum.label : ''","labelPadding":10,"labelFlush":false,"labelOverlap":false,"labelFontSize":15.5,"labelFontWeight":"bold","labelColor":"black","title":"Wavelength (nm)","titleFontSize":15.5,"titleFontWeight":"bold","titleColor":"black","titleY":34,"titleBaseline":"middle"}},
      "y":{"field":"y","type":"quantitative","scale":{"domain":[0,1.4],"range":[282.3,150],"nice":false,"zero":false},
       "axis":{"orient":"left","offset":-65,"values":[0,0.25,0.5,0.75,1,1.25],"domain":false,"grid":false,"tickColor":"black","tickWidth":1.2,"tickSize":{"condition":{"test":"round(datum.value*4) % 2 === 0","value":-5},"value":-3},"labelExpr":"round(datum.value*4) % 2 === 0 ? format(datum.value, '.1f') : ''","labelPadding":12,"labelFontSize":15.5,"labelFontWeight":"bold","labelColor":"black","title":"Normalized intensity (a.u.)","titleFontSize":15.3,"titleFontWeight":"bold","titleColor":"black","titleX":-43.4,"titleY":149.7,"titleBaseline":"middle"}}},
     "layer":[
      {"data":{"name":"B_bf"},"mark":{"type":"area","color":{"gradient":"linear","x1":0,"y1":0,"x2":0,"y2":1,"stops":[{"offset":0,"color":"#7cc89a"},{"offset":1,"color":"#ffffff"}]}}},
      {"data":{"name":"B_bp"},"mark":{"type":"area","color":{"gradient":"linear","x1":0,"y1":0,"x2":0,"y2":1,"stops":[{"offset":0,"color":"#b3693f"},{"offset":1,"color":"#ffffff"}]}}},
      {"data":{"name":"B_bf"},"mark":{"type":"line","color":"#2ca55c","strokeWidth":1.3}},
      {"data":{"name":"B_bf"},"mark":{"type":"point","filled":true,"fill":"#e6f5ec","stroke":"#2ca55c","strokeWidth":1,"size":18,"opacity":1}},
      {"data":{"name":"B_bp"},"mark":{"type":"line","color":"#ff6a13","strokeWidth":1.3}},
      {"data":{"name":"B_bp"},"mark":{"type":"point","filled":true,"fill":"#ffe8da","stroke":"#ff6a13","strokeWidth":1,"size":18,"opacity":1}}
     ]},
    {"data":{"values":[{}]},"mark":{"type":"rect","color":{"gradient":"linear","x1":0,"y1":0,"x2":0,"y2":1,"stops":[{"offset":0,"color":"#7cc89a"},{"offset":1,"color":"#ffffff"}]},"stroke":"#bbbbbb","strokeWidth":0.8},"encoding":{"x":{"datum":521.6},"x2":{"datum":555.8},"y":{"datum":1.316},"y2":{"datum":1.158}}},
    {"data":{"values":[{}]},"mark":{"type":"rect","color":{"gradient":"linear","x1":0,"y1":0,"x2":0,"y2":1,"stops":[{"offset":0,"color":"#f7916a"},{"offset":1,"color":"#ffffff"}]},"stroke":"#bbbbbb","strokeWidth":0.8},"encoding":{"x":{"datum":611},"x2":{"datum":644},"y":{"datum":1.316},"y2":{"datum":1.158}}},
    {"data":{"values":[{}]},"mark":{"type":"text","text":"Fluo.","align":"left","baseline":"middle","fontSize":15.5,"fontWeight":"bold","color":"black"},"encoding":{"x":{"datum":561},"y":{"datum":1.239}}},
    {"data":{"values":[{}]},"mark":{"type":"text","text":"Phos.","align":"left","baseline":"middle","fontSize":15.5,"fontWeight":"bold","color":"black"},"encoding":{"x":{"datum":650.3},"y":{"datum":1.239}}},
    {"data":{"values":[{}]},"mark":{"type":"text","text":"Neat film at 77K","align":"left","baseline":"middle","fontSize":15.3,"fontWeight":"bold","color":"black"},"encoding":{"x":{"datum":310.8},"y":{"datum":1.239}}},
    {"data":{"values":[{}]},"mark":{"type":"rect","filled":false,"color":"black","strokeWidth":1.6},"encoding":{"x":{"datum":300},"x2":{"datum":700},"y":{"datum":0},"y2":{"datum":1.4}}}
   ]}
  ]}
]
}
